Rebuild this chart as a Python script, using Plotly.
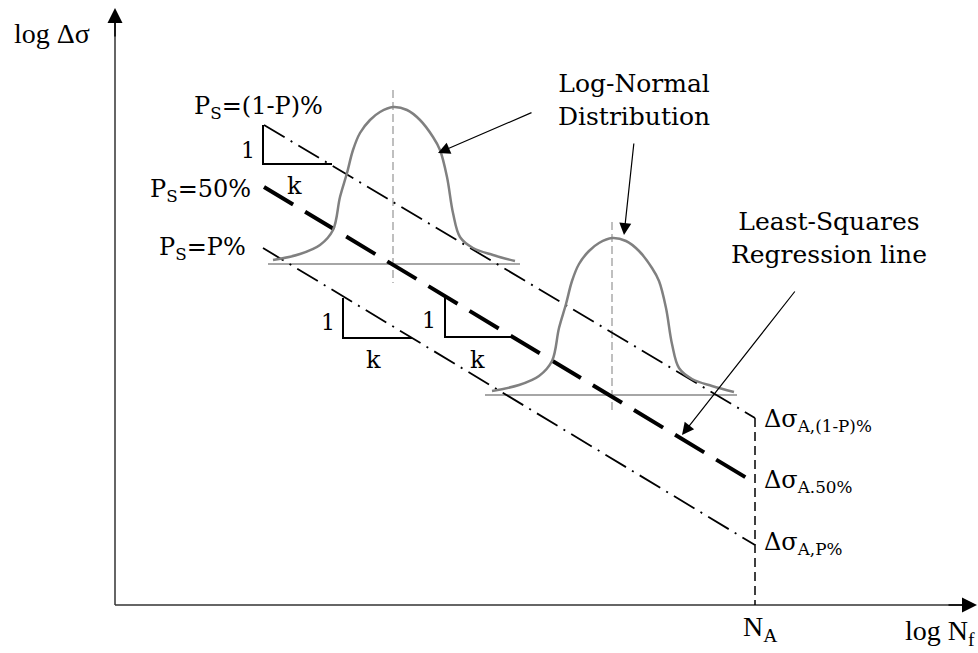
import plotly.graph_objects as go

W, H = 978, 653

# ---- schematic geometry (pixel-like units, y grows downward) ----
axis_origin = [115, 605]
y_axis_tip = [115, 8]
x_axis_tip = [977, 605]

# S-N lines: (1-P)%, 50%, P%
sn_x0 = [264, 264, 263]
sn_y0 = [125, 187, 248]
sn_x1 = [755, 755, 755]
sn_y1 = [418, 483, 545]
na_x = 755

# bell (distribution) shape: offset from centre, height above baseline
bell_dx = [-120, -93, -73, -60, -53, -46, -40, -33, -23, -13, 0, 14, 27, 40, 47, 54, 60, 67, 80, 100, 122]
bell_h = [4, 10, 19, 34, 67, 91, 114, 131, 144, 152, 157, 154, 144, 127, 114, 87, 51, 27, 16, 9, 3]
bell_cx = [393, 612]
bell_base = [264, 395]
base_x0 = [268, 485]
base_x1 = [520, 737]
centre_top = [90, 222]
centre_bot = [283, 413]

# slope triangles
tri_x = [263, 343, 445]
tri_top = [125, 298, 297]
tri_bot = [164, 338, 337]
tri_right = [332, 412, 515]
one_pos = [(248, 150), (328, 322), (429, 320)]
k_pos = [(294, 186), (373, 360), (477, 360)]

# callout arrows (tail -> tip)
arrow_tail = [(533, 112), (634, 142), (796, 290)]
arrow_tip = [(438, 153), (624, 235), (682, 435)]

GEO = "DejaVu Serif"
TIM = "Liberation Serif"

fig = go.Figure()

def seg(x, y, color="black", width=1.5, dash="solid", shape="linear"):
    fig.add_trace(go.Scatter(x=x, y=y, mode="lines", hoverinfo="skip",
                             line=dict(color=color, width=width, dash=dash, shape=shape)))

# axes
seg([axis_origin[0], y_axis_tip[0]], [axis_origin[1], y_axis_tip[1] + 10], color="#333", width=1.5)
seg([axis_origin[0], x_axis_tip[0] - 10], [axis_origin[1], x_axis_tip[1]], color="#333", width=1.5)

# baselines and centre lines of distributions
for i in range(2):
    seg([base_x0[i], base_x1[i]], [bell_base[i], bell_base[i]], color="#888", width=1.5)
    seg([bell_cx[i], bell_cx[i]], [centre_top[i], centre_bot[i]], color="#aaa", width=1.5, dash="8px,4px")

# S-N lines
seg([sn_x0[0], sn_x1[0]], [sn_y0[0], sn_y1[0]], width=1.8, dash="24px,7px,2px,7px")
seg([sn_x0[1], sn_x1[1]], [sn_y0[1], sn_y1[1]], width=4, dash="34px,14px")
seg([sn_x0[2], sn_x1[2]], [sn_y0[2], sn_y1[2]], width=1.8, dash="24px,7px,2px,7px")

# N_A vertical dashed
seg([na_x, na_x], [sn_y1[0], axis_origin[1]], width=1.5, dash="9px,5px")

# bells
for i in range(2):
    seg([bell_cx[i] + d for d in bell_dx], [bell_base[i] - h for h in bell_h],
        color="#808080", width=2.5, shape="spline")

# triangles
for i in range(3):
    seg([tri_x[i], tri_x[i], tri_right[i]], [tri_top[i], tri_bot[i], tri_bot[i]], width=2)

ann = []
def txt(x, y, t, size, font=GEO, xanchor="center"):
    ann.append(dict(x=x, y=y, text=t, showarrow=False, xanchor=xanchor, yanchor="middle",
                    font=dict(family=font, size=size, color="black")))

for (x, y) in one_pos:
    txt(x, y, "1", 22)
for (x, y) in k_pos:
    txt(x, y, "k", 24)

txt(325, 107, "P<sub>S</sub>=(1-P)%", 24, xanchor="right")
txt(253, 190, "P<sub>S</sub>=50%", 24, xanchor="right")
txt(248, 248, "P<sub>S</sub>=P%", 24, xanchor="right")
txt(762, 420, "Δσ<sub>A,(1-P)%</sub>", 24, xanchor="left")
txt(762, 481, "Δσ<sub>A.50%</sub>", 24, xanchor="left")
txt(762, 543, "Δσ<sub>A,P%</sub>", 24, xanchor="left")
txt(634, 100, "Log-Normal<br>Distribution", 25)
txt(829, 238, "Least-Squares<br>Regression line", 25)
txt(12, 33, "log Δσ", 28, font=TIM, xanchor="left")
txt(977, 632, "log N<sub>f</sub>", 28, font=TIM, xanchor="right")
txt(760, 628, "N<sub>A</sub>", 28, font=TIM)

for (tx, ty), (hx, hy) in zip(arrow_tail, arrow_tip):
    ann.append(dict(x=hx, y=hy, ax=tx, ay=ty, xref="x", yref="y", axref="x", ayref="y",
                    text="", showarrow=True, arrowhead=2, arrowsize=2, arrowwidth=1.2,
                    arrowcolor="black"))

# axis arrowheads
ann.append(dict(x=y_axis_tip[0], y=y_axis_tip[1], ax=axis_origin[0], ay=y_axis_tip[1] + 30,
                xref="x", yref="y", axref="x", ayref="y", text="", showarrow=True,
                arrowhead=2, arrowsize=2, arrowwidth=1.5, arrowcolor="black"))
ann.append(dict(x=x_axis_tip[0], y=x_axis_tip[1], ax=x_axis_tip[0] - 30, ay=axis_origin[1],
                xref="x", yref="y", axref="x", ayref="y", text="", showarrow=True,
                arrowhead=2, arrowsize=2, arrowwidth=1.5, arrowcolor="black"))

fig.update_layout(
    width=W, height=H, margin=dict(l=0, r=0, t=0, b=0),
    paper_bgcolor="white", plot_bgcolor="white", showlegend=False,
    xaxis=dict(range=[0, W], visible=False, fixedrange=True),
    yaxis=dict(range=[H, 0], visible=False, fixedrange=True),
    annotations=ann,
)

fig.write_html("out.html", config={"displayModeBar": False},
               post_script="document.body.style.margin='0';document.body.style.overflow='hidden';")
